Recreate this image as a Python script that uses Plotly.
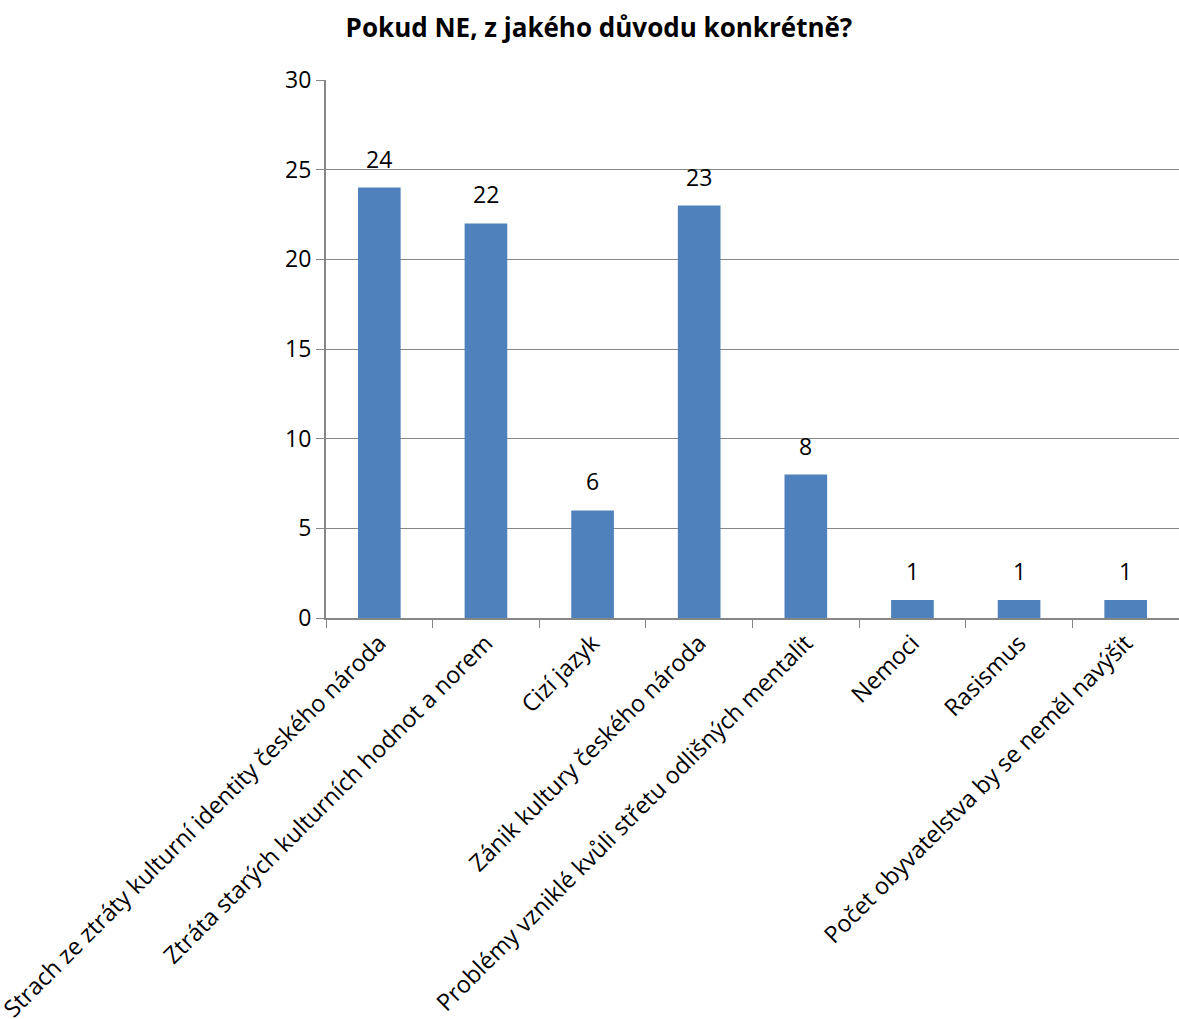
import plotly.graph_objects as go

categories = [
    "Strach ze ztráty kulturní identity českého národa",
    "Ztráta starých kulturních hodnot a norem",
    "Cizí jazyk",
    "Zánik kultury českého národa",
    "Problémy vzniklé kvůli střetu odlišných mentalit",
    "Nemoci",
    "Rasismus",
    "Počet obyvatelstva by se neměl navýšit",
]
values = [24, 22, 6, 23, 8, 1, 1, 1]
title_text = "Pokud NE, z jakého důvodu konkrétně?"

FONT = "Open Sans, Noto Sans, sans-serif"
GRID = "#868686"

fig = go.Figure(go.Bar(
    x=categories, y=values,
    marker=dict(color="#4F81BD", line=dict(width=0)),
    width=0.4,
))

for c, v in zip(categories, values):
    fig.add_annotation(x=c, y=v, text=str(v), showarrow=False,
                       yanchor="bottom", yshift=11,
                       font=dict(family=FONT, size=23, color="black"))

fig.update_layout(
    width=1179, height=1019,
    margin=dict(l=326, r=0, t=80, b=401),
    paper_bgcolor="white", plot_bgcolor="white",
    showlegend=False,
    title=dict(text="<b>" + title_text + "</b>", x=0.508, xanchor="center",
               y=1 - 28 / 1019, yanchor="middle",
               font=dict(family=FONT, size=26, color="black")),
    xaxis=dict(
        type="category", tickangle=-45, tickson="boundaries",
        ticks="outside", ticklen=8, tickcolor=GRID,
        showline=True, linecolor=GRID, linewidth=2,
        tickfont=dict(family=FONT, size=23.5, color="black"),
        automargin=False, showgrid=False,
        range=[-0.5, len(categories) - 0.5],
    ),
    yaxis=dict(
        range=[0, 30], dtick=5, tick0=0,
        ticks="outside", ticklen=8, tickcolor=GRID,
        showline=True, linecolor=GRID, linewidth=2,
        showgrid=True, gridcolor=GRID, gridwidth=1,
        zeroline=False,
        tickfont=dict(family=FONT, size=23, color="black"),
        automargin=False,
    ),
)

fig.write_html("out.html")
